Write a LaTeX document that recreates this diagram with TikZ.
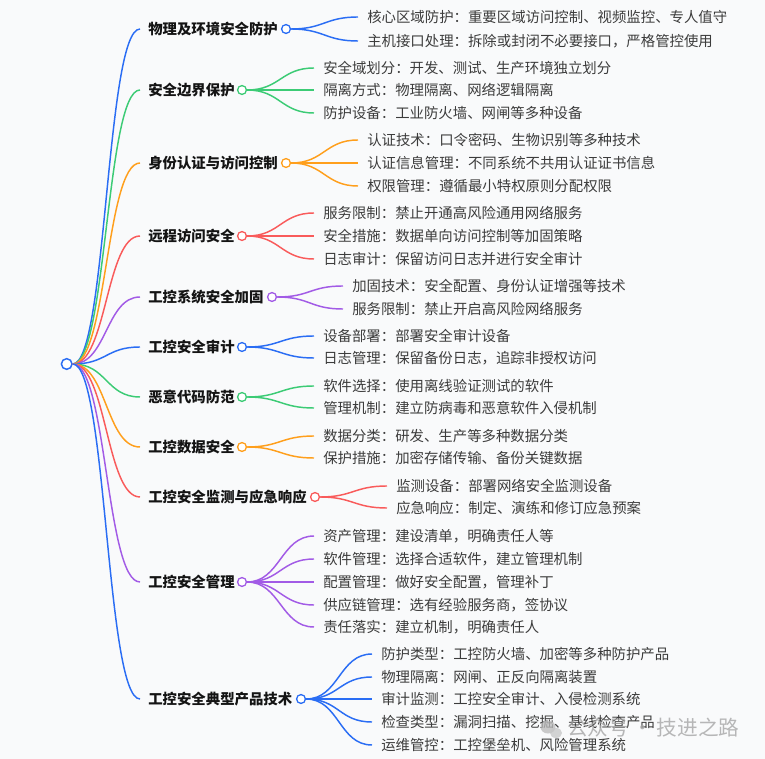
\documentclass[tikz,border=0pt]{standalone}
\usepackage{fontspec}
\usepackage{tikz}
\newfontfamily\cjk{Noto Sans CJK SC}
\definecolor{bgcol}{HTML}{F9FAFB}
\definecolor{cblue}{HTML}{2A6DF4}
\definecolor{cgreen}{HTML}{3CCB75}
\definecolor{corange}{HTML}{FF9F1C}
\definecolor{cred}{HTML}{F95B5B}
\definecolor{cpurple}{HTML}{A25BE6}
\definecolor{txtgray}{HTML}{3C3C3C}
\tikzset{
  lvone/.style={anchor=west,inner sep=0pt,text=black!92,font=\cjk\bfseries\fontsize{10.8}{13}\selectfont},
  lvtwo/.style={anchor=west,inner sep=0pt,text=txtgray,font=\cjk\fontsize{10.8}{13}\selectfont},
  knot/.style={circle,draw=#1,fill=white,line width=1.1pt,minimum size=6.5pt,inner sep=0pt},
  branch/.style={draw=#1,line width=1.1pt}
}
\begin{document}
\begin{tikzpicture}[x=0.75pt,y=-0.75pt]
%canvas
\fill[bgcol](0,0)rectangle(765,759);
\useasboundingbox(0,0)rectangle(765,759);
%root
\node[knot=cblue,minimum size=8pt](root)at(66.7,364){};
%group 1
\node[lvone](g1)at(148,29){物理及环境安全防护};
\draw[branch=cblue](root.east)..controls+(34,0)and+(-34,0)..([xshift=-6pt]g1.west);
\node[knot=cblue](k1)at(286,29){};
\foreach \y/\txt [count=\i] in {17/核心区域防护：重要区域访问控制、视频监控、专人值守,41/主机接口处理：拆除或封闭不必要接口，严格管控使用}{
\node[lvtwo](g1c\i)at(367,\y){\txt};
\draw[branch=cblue](k1.east)..controls+(33,0)and+(-33,0)..([xshift=-6.75pt]g1c\i.west);
}
%group 2
\node[lvone](g2)at(148,90){安全边界保护};
\draw[branch=cgreen](root.east)..controls+(34,0)and+(-34,0)..([xshift=-6pt]g2.west);
\node[knot=cgreen](k2)at(242,90){};
\foreach \y/\txt [count=\i] in {68/安全域划分：开发、测试、生产环境独立划分,90/隔离方式：物理隔离、网络逻辑隔离,113/防护设备：工业防火墙、网闸等多种设备}{
\node[lvtwo](g2c\i)at(323,\y){\txt};
\draw[branch=cgreen](k2.east)..controls+(33,0)and+(-33,0)..([xshift=-6.75pt]g2c\i.west);
}
%group 3
\node[lvone](g3)at(148,163){身份认证与访问控制};
\draw[branch=corange](root.east)..controls+(34,0)and+(-34,0)..([xshift=-6pt]g3.west);
\node[knot=corange](k3)at(286,163){};
\foreach \y/\txt [count=\i] in {140/认证技术：口令密码、生物识别等多种技术,163/认证信息管理：不同系统不共用认证证书信息,186/权限管理：遵循最小特权原则分配权限}{
\node[lvtwo](g3c\i)at(367,\y){\txt};
\draw[branch=corange](k3.east)..controls+(33,0)and+(-33,0)..([xshift=-6.75pt]g3c\i.west);
}
%group 4
\node[lvone](g4)at(148,236){远程访问安全};
\draw[branch=cred](root.east)..controls+(34,0)and+(-34,0)..([xshift=-6pt]g4.west);
\node[knot=cred](k4)at(242,236){};
\foreach \y/\txt [count=\i] in {213/服务限制：禁止开通高风险通用网络服务,236/安全措施：数据单向访问控制等加固策略,259/日志审计：保留访问日志并进行安全审计}{
\node[lvtwo](g4c\i)at(323,\y){\txt};
\draw[branch=cred](k4.east)..controls+(33,0)and+(-33,0)..([xshift=-6.75pt]g4c\i.west);
}
%group 5
\node[lvone](g5)at(148,297){工控系统安全加固};
\draw[branch=cpurple](root.east)..controls+(34,0)and+(-34,0)..([xshift=-6pt]g5.west);
\node[knot=cpurple](k5)at(272,297){};
\foreach \y/\txt [count=\i] in {286/加固技术：安全配置、身份认证增强等技术,309/服务限制：禁止开启高风险网络服务}{
\node[lvtwo](g5c\i)at(352,\y){\txt};
\draw[branch=cpurple](k5.east)..controls+(33,0)and+(-33,0)..([xshift=-6.75pt]g5c\i.west);
}
%group 6
\node[lvone](g6)at(148,347){工控安全审计};
\draw[branch=cblue](root.east)..controls+(34,0)and+(-34,0)..([xshift=-6pt]g6.west);
\node[knot=cblue](k6)at(242,347){};
\foreach \y/\txt [count=\i] in {336/设备部署：部署安全审计设备,358/日志管理：保留备份日志，追踪非授权访问}{
\node[lvtwo](g6c\i)at(323,\y){\txt};
\draw[branch=cblue](k6.east)..controls+(33,0)and+(-33,0)..([xshift=-6.75pt]g6c\i.west);
}
%group 7
\node[lvone](g7)at(148,397){恶意代码防范};
\draw[branch=cgreen](root.east)..controls+(34,0)and+(-34,0)..([xshift=-6pt]g7.west);
\node[knot=cgreen](k7)at(242,397){};
\foreach \y/\txt [count=\i] in {386/软件选择：使用离线验证测试的软件,408/管理机制：建立防病毒和恶意软件入侵机制}{
\node[lvtwo](g7c\i)at(323,\y){\txt};
\draw[branch=cgreen](k7.east)..controls+(33,0)and+(-33,0)..([xshift=-6.75pt]g7c\i.west);
}
%group 8
\node[lvone](g8)at(148,447){工控数据安全};
\draw[branch=corange](root.east)..controls+(34,0)and+(-34,0)..([xshift=-6pt]g8.west);
\node[knot=corange](k8)at(242,447){};
\foreach \y/\txt [count=\i] in {436/数据分类：研发、生产等多种数据分类,458/保护措施：加密存储传输、备份关键数据}{
\node[lvtwo](g8c\i)at(323,\y){\txt};
\draw[branch=corange](k8.east)..controls+(33,0)and+(-33,0)..([xshift=-6.75pt]g8c\i.west);
}
%group 9
\node[lvone](g9)at(148,497){工控安全监测与应急响应};
\draw[branch=cred](root.east)..controls+(34,0)and+(-34,0)..([xshift=-6pt]g9.west);
\node[knot=cred](k9)at(315,497){};
\foreach \y/\txt [count=\i] in {486/监测设备：部署网络安全监测设备,508/应急响应：制定、演练和修订应急预案}{
\node[lvtwo](g9c\i)at(396,\y){\txt};
\draw[branch=cred](k9.east)..controls+(33,0)and+(-33,0)..([xshift=-6.75pt]g9c\i.west);
}
%group 10
\node[lvone](g10)at(148,582){工控安全管理};
\draw[branch=cpurple](root.east)..controls+(34,0)and+(-34,0)..([xshift=-6pt]g10.west);
\node[knot=cpurple](k10)at(242,582){};
\foreach \y/\txt [count=\i] in {536/资产管理：建设清单，明确责任人等,559/软件管理：选择合适软件，建立管理机制,582/配置管理：做好安全配置，管理补丁,605/供应链管理：选有经验服务商，签协议,627/责任落实：建立机制，明确责任人}{
\node[lvtwo](g10c\i)at(323,\y){\txt};
\draw[branch=cpurple](k10.east)..controls+(33,0)and+(-33,0)..([xshift=-6.75pt]g10c\i.west);
}
%group 11
\node[lvone](g11)at(148,699){工控安全典型产品技术};
\draw[branch=cblue](root.east)..controls+(34,0)and+(-34,0)..([xshift=-6pt]g11.west);
\node[knot=cblue](k11)at(301,699){};
\foreach \y/\txt [count=\i] in {654/防护类型：工控防火墙、加密等多种防护产品,677/物理隔离：网闸、正反向隔离装置,699/审计监测：工控安全审计、入侵检测系统,722/检查类型：漏洞扫描、挖掘、基线检查产品,745/运维管控：工控堡垒机、风险管理系统}{
\node[lvtwo](g11c\i)at(381,\y){\txt};
\draw[branch=cblue](k11.east)..controls+(33,0)and+(-33,0)..([xshift=-6.75pt]g11c\i.west);
}
%redraw knots on top
\foreach \k/\c in {root/cblue,k1/cblue,k2/cgreen,k3/corange,k4/cred,k5/cpurple,k6/cblue,k7/cgreen,k8/corange,k9/cred,k10/cpurple,k11/cblue}{
\fill[white](\k.center)circle(2.6pt);
}
%watermark
\fill[gray!55,opacity=.75](548,727)ellipse(7.5 and 6.5);
\fill[gray!45,opacity=.75](556,733)ellipse(6 and 5);
\node[anchor=west,inner sep=0pt,text=gray!70,opacity=.8,font=\cjk\fontsize{15.5}{18}\selectfont](wm)at(567,728){公众号\,·\,技进之路};
\end{tikzpicture}
\end{document}
